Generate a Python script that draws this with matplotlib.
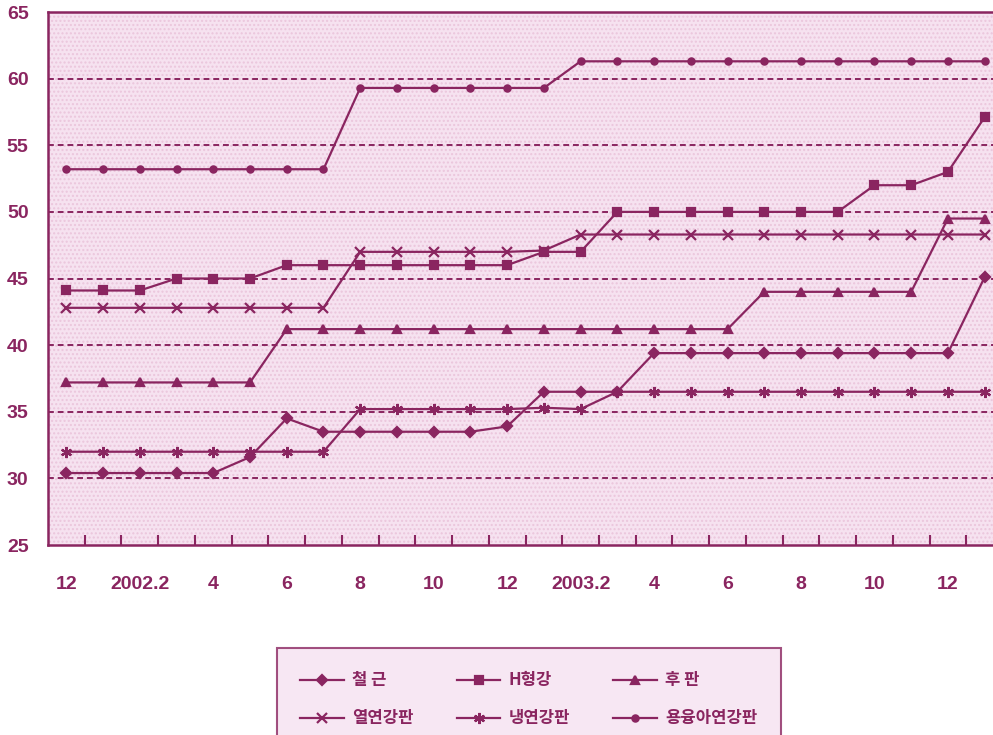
import matplotlib as mpl
mpl.use('Agg')
import matplotlib.pyplot as plt
from matplotlib.ticker import FixedLocator

plt.rcParams['font.family'] = ['Noto Sans CJK KR', 'DejaVu Sans']

# months 2001.12 ... 2004.1
months = ['12', '', '2002.2', '', '4', '', '6', '', '8', '', '10', '', '12', '',
          '2003.2', '', '4', '', '6', '', '8', '', '10', '', '12', '']

rebar = [30.4, 30.4, 30.4, 30.4, 30.4, 31.6, 34.5, 33.5, 33.5, 33.5, 33.5, 33.5, 33.9,
         36.5, 36.5, 36.5, 39.4, 39.4, 39.4, 39.4, 39.4, 39.4, 39.4, 39.4, 39.4, 45.1]
h_beam = [44.1, 44.1, 44.1, 45.0, 45.0, 45.0, 46.0, 46.0, 46.0, 46.0, 46.0, 46.0, 46.0,
          47.0, 47.0, 50.0, 50.0, 50.0, 50.0, 50.0, 50.0, 50.0, 52.0, 52.0, 53.0, 57.1]
plate = [37.2, 37.2, 37.2, 37.2, 37.2, 37.2, 41.2, 41.2, 41.2, 41.2, 41.2, 41.2, 41.2,
         41.2, 41.2, 41.2, 41.2, 41.2, 41.2, 44.0, 44.0, 44.0, 44.0, 44.0, 49.5, 49.5]
hot_rolled = [42.8, 42.8, 42.8, 42.8, 42.8, 42.8, 42.8, 42.8, 47.0, 47.0, 47.0, 47.0, 47.0,
              47.1, 48.3, 48.3, 48.3, 48.3, 48.3, 48.3, 48.3, 48.3, 48.3, 48.3, 48.3, 48.3]
cold_rolled = [32.0, 32.0, 32.0, 32.0, 32.0, 32.0, 32.0, 32.0, 35.2, 35.2, 35.2, 35.2, 35.2,
               35.3, 35.2, 36.5, 36.5, 36.5, 36.5, 36.5, 36.5, 36.5, 36.5, 36.5, 36.5, 36.5]
galvanized = [53.2, 53.2, 53.2, 53.2, 53.2, 53.2, 53.2, 53.2, 59.3, 59.3, 59.3, 59.3, 59.3,
              59.3, 61.3, 61.3, 61.3, 61.3, 61.3, 61.3, 61.3, 61.3, 61.3, 61.3, 61.3, 61.3]

names = ['철 근', 'H형강', '후 판', '열연강판', '냉연강판', '용융아연강판']
series = [rebar, h_beam, plate, hot_rolled, cold_rolled, galvanized]
markers = ['D', 's', '^', 'x', (6, 2, 0), 'o']
sizes = [5, 5.5, 6, 7, 8, 4.5]

col = '#8A2560'
x = list(range(len(months)))

fig = plt.figure(figsize=(9.93, 7.35), dpi=100)
fig.patch.set_facecolor('white')
# right edge runs past the picture, as in the original
ax = fig.add_axes([48 / 993, 1 - 545 / 735, (1003 - 48) / 993, (545 - 12) / 735])
ax.set_facecolor('#F6E2F0')
ax.fill_between([-0.5, 25.5], 25, 65, facecolor='none', edgecolor='#EBC6DC',
                hatch='....', linewidth=0, zorder=0)

lines = []
for vals, name, m, s in zip(series, names, markers, sizes):
    ln, = ax.plot(x, vals, color=col, lw=1.6, marker=m, ms=s, mew=1.6,
                  mfc=col, mec=col, label=name, zorder=3)
    lines.append(ln)

ax.set_xlim(-0.5, 25.5)
ax.set_ylim(25, 65)
ax.set_yticks(range(25, 70, 5))
for yv in range(30, 65, 5):
    ax.axhline(yv, color=col, lw=1.4, ls=(0, (3, 2)), zorder=1)

ax.xaxis.set_major_locator(FixedLocator(x))
ax.set_xticklabels(months)
ax.xaxis.set_minor_locator(FixedLocator([i + 0.5 for i in x[:-1]]))
ax.tick_params(axis='x', which='major', length=0, pad=22, colors=col, labelsize=14)
ax.tick_params(axis='x', which='minor', direction='in', length=7, width=1.5, color=col)
ax.tick_params(axis='y', length=0, pad=14, colors=col, labelsize=14)
for lab in ax.get_xticklabels() + ax.get_yticklabels():
    lab.set_fontweight('bold')
    lab.set_family(['Liberation Sans Narrow', 'Liberation Sans', 'DejaVu Sans'])
for sp in ax.spines.values():
    sp.set_color(col)
    sp.set_linewidth(1.8)

# legend is filled column by column, so order the handles to read row by row
order = [0, 3, 1, 4, 2, 5]
leg = fig.legend([lines[i] for i in order], [names[i] for i in order],
                 loc='upper left', bbox_to_anchor=(277 / 993, 1 - 648 / 735),
                 borderaxespad=0, ncol=3, frameon=True, fancybox=False,
                 handlelength=2.6, handletextpad=0.5, columnspacing=2.6,
                 borderpad=1.4, labelspacing=1.2, prop={'weight': 'bold', 'size': 12})
leg.get_frame().set_edgecolor(col)
leg.get_frame().set_linewidth(1.5)
leg.get_frame().set_facecolor('#F6E2F0')
for t in leg.get_texts():
    t.set_color(col)

fig.savefig('out.png', dpi=100)
